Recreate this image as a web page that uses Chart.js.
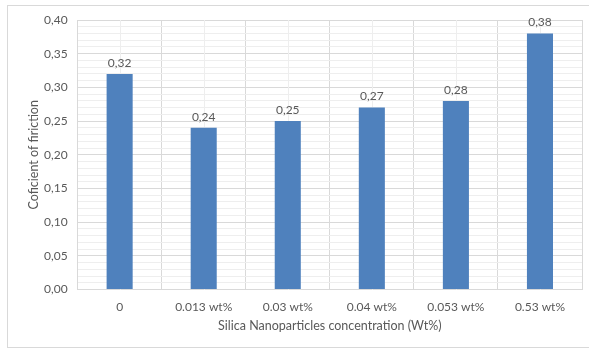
<!DOCTYPE html>
<html>
<head>
<meta charset="utf-8">
<script src="https://cdn.jsdelivr.net/npm/chart.js@4/dist/chart.umd.min.js"></script>
<style>
  html, body { margin: 0; padding: 0; background: #ffffff; }
  #wrap { position: relative; width: 589px; height: 349px; }
</style>
</head>
<body>
<div id="wrap"><canvas id="chart" width="589" height="349"></canvas></div>
<script>
// Friction coefficient for each silica nanoparticle concentration
const categories = ['0', '0.013 wt%', '0.03 wt%', '0.04 wt%', '0.053 wt%', '0.53 wt%'];
const frictionValues = [0.32, 0.24, 0.25, 0.27, 0.28, 0.38];
const yTicks = [0.00, 0.05, 0.10, 0.15, 0.20, 0.25, 0.30, 0.35, 0.40];
const xTitle = 'Silica Nanoparticles concentration (Wt%)';
const yTitle = 'Coficient of firiction';

const FONT = "Lato, 'Open Sans', sans-serif";
const TEXT = '#595959';
const MAJOR = '#d9d9d9';
const MINOR = '#eeeeee';

const fmt = v => v.toFixed(2).replace('.', ',');
const isMajor = v => yTicks.some(t => Math.abs(t - v) < 1e-6);

// Outer frame, axis titles, minor vertical lines at category centres, value labels
const extras = {
  id: 'extras',
  beforeDraw(chart) {
    const c = chart.ctx;
    c.save();
    c.strokeStyle = MAJOR;
    c.lineWidth = 1;
    c.strokeRect(7.5, 5.5, 640, 342);
    c.restore();
  },
  beforeDatasetsDraw(chart) {
    const c = chart.ctx, x = chart.scales.x, area = chart.chartArea;
    c.save();
    c.strokeStyle = MINOR;
    c.lineWidth = 1;
    categories.forEach((_, i) => {
      const px = Math.round(x.getPixelForValue(i)) + 0.5;
      c.beginPath();
      c.moveTo(px, area.top);
      c.lineTo(px, area.bottom);
      c.stroke();
    });
    c.restore();
  },
  afterDatasetsDraw(chart) {
    const c = chart.ctx, area = chart.chartArea;
    const meta = chart.getDatasetMeta(0);
    c.save();
    c.fillStyle = TEXT;
    c.font = '12px ' + FONT;
    c.textAlign = 'center';
    c.textBaseline = 'bottom';
    meta.data.forEach((bar, i) => {
      c.fillText(fmt(frictionValues[i]), bar.x, bar.y - 5);
    });
    // axis titles
    c.font = '12.5px ' + FONT;
    c.textBaseline = 'middle';
    c.fillText(xTitle, (area.left + area.right) / 2, area.bottom + 36);
    c.translate(area.left - 44, (area.top + area.bottom) / 2);
    c.rotate(-Math.PI / 2);
    c.fillText(yTitle, 0, 0);
    c.restore();
  }
};

new Chart(document.getElementById('chart'), {
  type: 'bar',
  data: {
    labels: categories,
    datasets: [{
      data: frictionValues,
      backgroundColor: '#4f81bd',
      borderWidth: 0,
      barPercentage: 0.62,
      categoryPercentage: 0.5
    }]
  },
  options: {
    responsive: false,
    animation: false,
    devicePixelRatio: 1,
    layout: { padding: { left: 34, right: 7, top: 20, bottom: 25 } },
    plugins: {
      legend: { display: false },
      tooltip: { enabled: false }
    },
    scales: {
      x: {
        grid: { color: MAJOR, offset: true, drawTicks: false },
        border: { color: MAJOR },
        ticks: { color: TEXT, font: { family: FONT, size: 12 }, padding: 10 }
      },
      y: {
        min: 0,
        max: 0.4,
        grid: {
          color: ctx => isMajor(ctx.tick.value) ? MAJOR : MINOR,
          drawTicks: false
        },
        border: { display: false },
        ticks: {
          stepSize: 0.01,
          autoSkip: false,
          color: TEXT,
          font: { family: FONT, size: 12 },
          padding: 10,
          callback: v => isMajor(v) ? fmt(v) : ''
        }
      }
    }
  },
  plugins: [extras]
});
</script>
</body>
</html>
